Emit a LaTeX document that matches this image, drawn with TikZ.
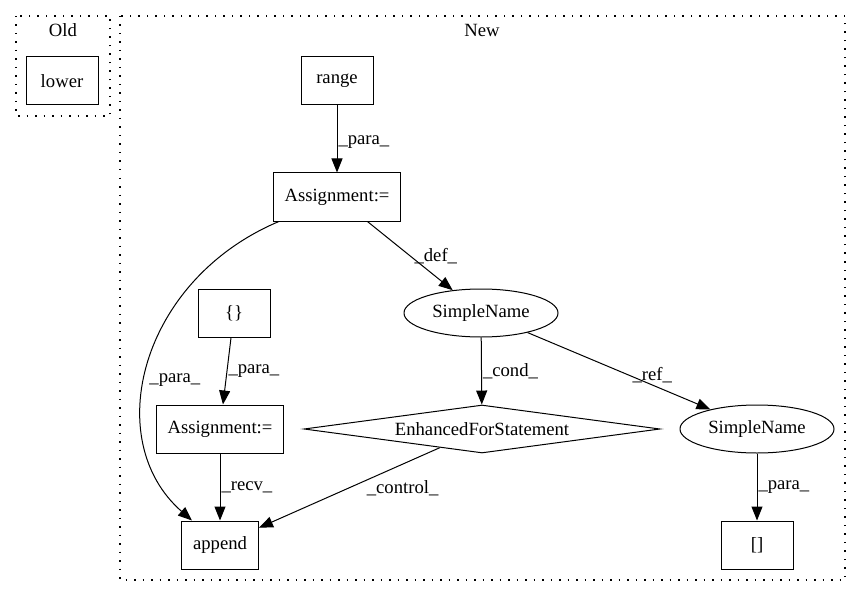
\documentclass[tikz,border=0pt]{standalone}
\usepackage{fontspec}
\setmainfont{Liberation Serif}
\usetikzlibrary{arrows.meta,shapes.geometric}

\begin{document}
\begin{tikzpicture}[x=1pt,y=-1pt,
        every node/.style={font=\fontsize{18.67}{22}\selectfont},
        box/.style={draw,line width=1pt,minimum width=72pt,minimum height=48pt,inner xsep=11.5pt},
        oval/.style={draw,ellipse,line width=1pt,minimum width=154pt,minimum height=48pt,inner sep=0pt},
        diam/.style={draw,diamond,line width=1pt,aspect=7.4,minimum width=356pt,minimum height=48pt,inner sep=0pt},
        edge/.style={line width=1pt,-{Triangle[length=14pt,width=11pt]}},
        lbl/.style={anchor=west,inner sep=1pt},
        cluster/.style={dash pattern=on 1.5pt off 7pt,line width=1.3pt}]
        \useasboundingbox (0,0) rectangle (861,596);
        %% clusters
        \draw[cluster] (16,16) rectangle (110,116);
        \node (old) at (63,30) {Old};
        \draw[cluster] (120,16) rectangle (845,580);
        \node (new) at (482,30) {New};
        %% old
        \node[box] (lower) at (62,81) {lower};
        %% new
        \node[box] (range) at (337,81) {range};
        \node[box] (asgA) at (337,197) {Assignment:=};
        \node[oval] (nameA) at (481,313) {SimpleName};
        \node[box] (brace) at (234,313) {\{\}};
        \node[box] (asgB) at (220,429) {Assignment:=};
        \node[diam] (loop) at (482,429) {EnhancedForStatement};
        \node[oval] (nameB) at (757,429) {SimpleName};
        \node[box] (append) at (220,545) {append};
        \node[box] (index) at (757,545) {[]};
        %% edges
        \draw[edge] (range) -- (asgA) node[lbl,pos=0.55] (l1) {\_para\_};
        \draw[edge] (asgA) .. controls (140,280) and (100,440) .. (append) node[lbl,pos=0.55,xshift=3pt] (l2) {\_para\_};
        \draw[edge] (asgA) -- (nameA) node[lbl,pos=0.5,xshift=3pt] (l3) {\_def\_};
        \draw[edge] (brace) -- (asgB) node[lbl,pos=0.5] (l4) {\_para\_};
        \draw[edge] (asgB) -- (append) node[lbl,pos=0.5] (l5) {\_recv\_};
        \draw[edge] (nameA) -- (loop) node[lbl,pos=0.5] (l6) {\_cond\_};
        \draw[edge] (nameA) -- (nameB) node[lbl,pos=0.5,xshift=12pt,yshift=-4pt] (l7) {\_ref\_};
        \draw[edge] (loop) -- (append) node[lbl,pos=0.5,xshift=16pt] (l8) {\_control\_};
        \draw[edge] (nameB) -- (index) node[lbl,pos=0.5] (l9) {\_para\_};
\end{tikzpicture}
\end{document}
